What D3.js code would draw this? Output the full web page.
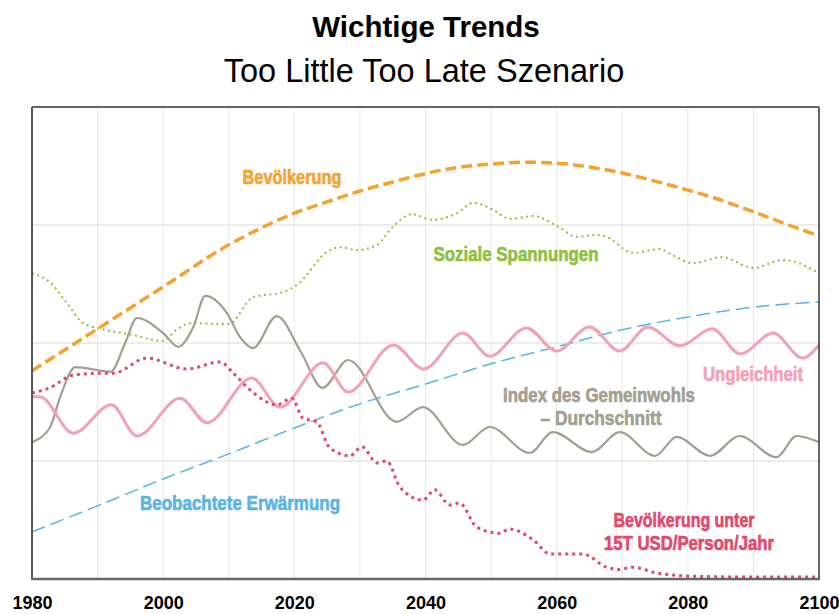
<!DOCTYPE html>
<html>
<head>
<meta charset="utf-8">
<script src="https://cdn.jsdelivr.net/npm/d3@7"></script>
<style>
  body { margin: 0; background: #fff; }
  svg { display: block; }
  .lbl { font-family: "Liberation Sans", Arial, sans-serif; font-weight: bold; font-size: 19.5px; }
</style>
</head>
<body>
<svg class="chart" width="839" height="614"></svg>
<script>
// values, 0..100 scale
const popYears = [1980, 1990, 2000, 2010, 2015, 2020, 2025, 2030, 2035, 2040, 2045, 2050, 2055, 2060, 2065, 2070, 2075, 2080, 2085, 2090, 2095, 2100];
const popValues = [44.1, 53.0, 61.9, 70.8, 74.4, 77.5, 79.9, 82.2, 84.1, 85.9, 87.2, 87.9, 88.3, 88.1, 87.3, 86.0, 84.3, 82.4, 80.3, 77.8, 75.2, 72.7];

const tensionYears = [1980, 1982.7, 1985.3, 1987.8, 1990.5, 1995.4, 2000, 2002, 2004.5, 2010, 2013.7, 2018.3, 2020.4, 2025, 2027, 2029.5, 2032.6, 2035, 2038, 2041, 2044.8, 2047.3, 2050.3, 2052.9, 2056.4, 2060.5, 2063, 2066.1, 2067.6, 2071.6, 2075.7, 2077.7, 2080.8, 2085.2, 2090, 2094.5, 2100];
const tensionValues = [64.8, 62.9, 58.5, 54.2, 53.0, 51.7, 50.4, 52.8, 54.2, 54.0, 59.7, 60.8, 62.3, 69.3, 70.3, 69.7, 70.8, 74.6, 77.3, 76.1, 77.5, 79.7, 78.2, 76.3, 76.9, 74.4, 72.5, 72.9, 72.5, 69.1, 69.9, 68.6, 66.9, 68.2, 65.9, 67.6, 64.8];

const wellbeingYears = [1980, 1982.7, 1984.3, 1986.6, 1992, 1994.2, 1996, 2000, 2002.3, 2004.6, 2006.4, 2009.7, 2011.7, 2013.7, 2017.3, 2021, 2024.3, 2028.2, 2035.6, 2039.6, 2045.7, 2049.8, 2055.9, 2059.4, 2065.4, 2069.6, 2075, 2078.3, 2083.4, 2087.9, 2093.5, 2096.6, 2100];
const wellbeingValues = [29.0, 32.0, 38.6, 44.9, 43.9, 50.0, 55.3, 52.1, 49.2, 53.4, 60.0, 56.4, 51.3, 48.9, 55.7, 48.1, 40.5, 46.4, 33.3, 36.4, 28.4, 32.2, 26.7, 31.1, 26.9, 31.1, 26.1, 30.1, 26.1, 30.3, 25.8, 30.3, 29.0];

const inequalityYears = [1980, 1981.2, 1986.3, 1992.1, 1996, 2002.6, 2006.7, 2013.5, 2017.8, 2024.4, 2028.2, 2035.1, 2039.7, 2045.7, 2049.8, 2055.4, 2060, 2065, 2069.6, 2073.9, 2078.8, 2083.7, 2088, 2093, 2097.5, 2100];
const inequalityValues = [38.6, 38.6, 30.9, 36.9, 30.3, 38.3, 33.1, 42.6, 36.4, 45.8, 39.6, 49.6, 44.5, 52.1, 47.2, 53.2, 48.3, 53.4, 48.3, 53.4, 49.4, 53.0, 47.7, 52.1, 46.8, 49.6];

const warmingYears = [1980, 1990, 2000, 2010, 2020, 2030, 2040, 2050, 2060, 2070, 2080, 2090, 2100];
const warmingValues = [10.0, 15.5, 21.2, 26.5, 32.0, 37.1, 41.3, 45.6, 49.2, 52.8, 55.5, 57.6, 58.7];

const poorYears = [1980, 1982.7, 1986.3, 1990.4, 1992.4, 1997.5, 2003.6, 2008.7, 2010.7, 2013.8, 2017.3, 2019.6, 2021.3, 2023.4, 2025.4, 2028.5, 2030.3, 2032.6, 2034.1, 2036.1, 2039.6, 2041.4, 2043.7, 2045.2, 2047.8, 2051.3, 2052.8, 2056.4, 2059, 2064, 2067.6, 2069.5, 2071.6, 2075.2, 2080.3, 2090, 2100];
const poorValues = [39.4, 40.5, 43.2, 43.6, 43.6, 46.8, 44.5, 46.0, 43.6, 39.4, 36.9, 38.3, 34.1, 33.3, 27.8, 26.1, 28.0, 24.6, 25.0, 19.5, 16.7, 18.9, 15.7, 16.1, 11.0, 9.7, 10.6, 8.3, 5.3, 5.3, 2.5, 2.0, 2.5, 1.3, 0.6, 0.4, 0.4];

const xTicks = [1980, 2000, 2020, 2040, 2060, 2080, 2100];
const gridYears = [1990, 2000, 2010, 2020, 2030, 2040, 2050, 2060, 2070, 2080, 2090];
const gridValues = [25, 50, 75];

const svg = d3.select('.chart');
const width = +svg.attr('width');
const height = +svg.attr('height');
const margin = {top: 107, right: 20, bottom: 35, left: 32};

const x = d3.scaleLinear().domain([1980, 2100]).range([margin.left, width - margin.right]);
const y = d3.scaleLinear().domain([0, 100]).range([height - margin.bottom, margin.top]);

// titles
svg.append('text')
    .attr('x', 426).attr('y', 37)
    .attr('text-anchor', 'middle')
    .style('font-family', '"Liberation Sans", Arial, sans-serif')
    .style('font-weight', 'bold')
    .style('font-size', '29.5px')
    .text('Wichtige Trends');
svg.append('text')
    .attr('x', 424).attr('y', 82)
    .attr('text-anchor', 'middle')
    .style('font-family', '"Liberation Sans", Arial, sans-serif')
    .style('font-size', '32.5px')
    .text('Too Little Too Late Szenario');

// grid
svg.append('g').selectAll('line').data(gridYears).enter().append('line')
    .attr('x1', d => x(d)).attr('x2', d => x(d))
    .attr('y1', y(100)).attr('y2', y(0))
    .attr('stroke', '#e6e6e6').attr('stroke-width', 1);
svg.append('g').selectAll('line').data(gridValues).enter().append('line')
    .attr('x1', x(1980)).attr('x2', x(2100))
    .attr('y1', d => y(d)).attr('y2', d => y(d))
    .attr('stroke', '#e6e6e6').attr('stroke-width', 1.5);

svg.append('clipPath').attr('id', 'plot')
    .append('rect')
    .attr('x', x(1980)).attr('y', y(100) - 2)
    .attr('width', x(2100) - x(1980)).attr('height', y(0) - y(100) + 2);

const plot = svg.append('g').attr('clip-path', 'url(#plot)');

function drawLine(years, values, color, w, dash) {
    const line = d3.line()
        .x((d, i) => x(years[i]))
        .y(d => y(d))
        .curve(d3.curveMonotoneX);
    plot.append('path')
        .datum(values)
        .attr('d', line)
        .attr('fill', 'none')
        .attr('stroke', color)
        .attr('stroke-width', w)
        .attr('stroke-dasharray', dash);
}

drawLine(warmingYears, warmingValues, '#58b4e6', 1.5, '14,6');
drawLine(tensionYears, tensionValues, '#8dc03f', 2, '2,3.5');
drawLine(popYears, popValues, '#f5a12c', 3.5, '11,5');
drawLine(wellbeingYears, wellbeingValues, '#a39e8f', 2.2, null);
drawLine(inequalityYears, inequalityValues, '#f2a2b4', 3, null);
drawLine(poorYears, poorValues, '#e2476c', 3, '3,4');

// frame
const fx0 = x(1980), fx1 = x(2100), fy0 = y(100), fy1 = y(0);
svg.append('line').attr('x1', fx0).attr('x2', fx1).attr('y1', fy0).attr('y2', fy0)
    .attr('stroke', '#333').attr('stroke-width', 1.5);
svg.append('line').attr('x1', fx1).attr('x2', fx1).attr('y1', fy0).attr('y2', fy1)
    .attr('stroke', '#333').attr('stroke-width', 1.5);
svg.append('line').attr('x1', fx0).attr('x2', fx0).attr('y1', fy0).attr('y2', fy1)
    .attr('stroke', '#555').attr('stroke-width', 2);
svg.append('line').attr('x1', fx0 - 1).attr('x2', fx1 + 1).attr('y1', fy1).attr('y2', fy1)
    .attr('stroke', '#666').attr('stroke-width', 2.5);

// x axis labels
const xAxis = d3.axisBottom(x).tickValues(xTicks).tickFormat(d3.format('d')).tickSize(0).tickPadding(0);
const gx = svg.append('g').attr('transform', `translate(0,${fy1})`).call(xAxis);
gx.select('.domain').remove();
gx.selectAll('text')
    .attr('y', 30).attr('dy', null)
    .style('font-family', '"Liberation Sans", Arial, sans-serif')
    .style('font-weight', 'bold')
    .style('font-size', '18px')
    .attr('fill', '#000');

// series labels (condensed look via textLength)
const labels = [
    {text: 'Bevölkerung', x: 292, y: 184, w: 99, color: '#f5a12c'},
    {text: 'Soziale Spannungen', x: 516, y: 261, w: 165, color: '#8dc03f'},
    {text: 'Ungleichheit', x: 753, y: 381, w: 100, color: '#f2a2b4'},
    {text: 'Index des Gemeinwohls', x: 599, y: 402, w: 192, color: '#a39e8f'},
    {text: '– Durchschnitt', x: 601, y: 425, w: 121, color: '#a39e8f'},
    {text: 'Beobachtete Erwärmung', x: 240, y: 510, w: 200, color: '#58b4e6'},
    {text: 'Bevölkerung unter', x: 684, y: 527, w: 141, color: '#e2476c'},
    {text: '15T USD/Person/Jahr', x: 689, y: 550, w: 170, color: '#e2476c'}
];
svg.append('g').selectAll('text').data(labels).enter().append('text')
    .attr('class', 'lbl')
    .attr('x', d => d.x).attr('y', d => d.y)
    .attr('text-anchor', 'middle')
    .attr('textLength', d => d.w)
    .attr('lengthAdjust', 'spacingAndGlyphs')
    .attr('fill', d => d.color)
    .attr('stroke', d => d.color)
    .attr('stroke-width', 0.6)
    .text(d => d.text);
</script>
</body>
</html>
